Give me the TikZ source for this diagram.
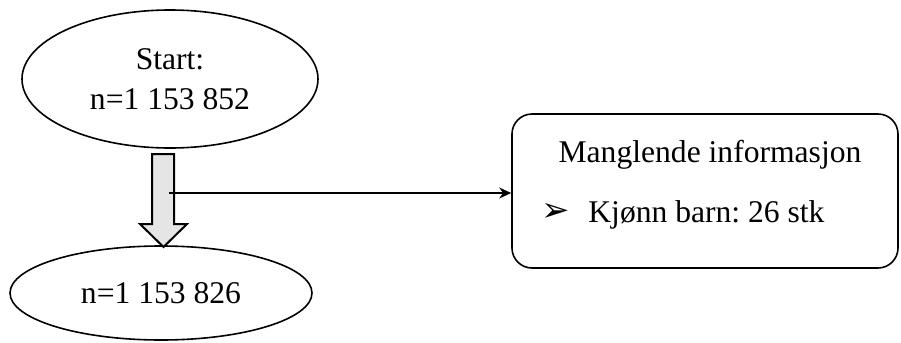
\documentclass[tikz,border=0pt]{standalone}
\usepackage{fontspec}
\setmainfont{Liberation Serif}
\newfontfamily\dingfont{DejaVu Sans}
\usetikzlibrary{shapes.geometric,arrows.meta,positioning}
\frenchspacing
\begin{document}
\begin{tikzpicture}[x=0.5pt,y=-0.5pt,>={Stealth[length=6pt,width=5.5pt]},font=\fontsize{15.8}{20}\selectfont,
	oval/.style={draw,thick,ellipse,align=center,inner sep=0pt},
	boks/.style={draw,thick,rounded corners=10pt}]
	\useasboundingbox (0,0) rectangle (901,343);
	\node[oval,minimum width=148pt,minimum height=69pt] (start) at (170,79) {Start:\\n=1 153 852};
	\node[oval,minimum width=151pt,minimum height=47pt] (slutt) at (161,293) {n=1 153 826};
	\node[boks,minimum width=193pt,minimum height=77pt] (info) at (705,191) {};
	\node[anchor=base] (tittel) at (710,162) {Manglende informasjon};
	\node[anchor=base west,inner sep=0pt] (punkt) at (541,221) {\dingfont\fontsize{17}{19}\selectfont ➢};
	\node[anchor=base west,inner sep=0pt] (kjonn) at (588,222) {Kjønn barn: 26 stk};
	% blokkpil mellom ellipsene
	\draw[line width=1pt,fill=gray!20] (152,154)--(174,154)--(174,224)--(187,224)--(163.5,247)--(140,224)--(152,224)--cycle;
	\coordinate (pil) at (169,193);
	\draw[thick,->] (pil)--(info.west |- pil);
\end{tikzpicture}
\end{document}
